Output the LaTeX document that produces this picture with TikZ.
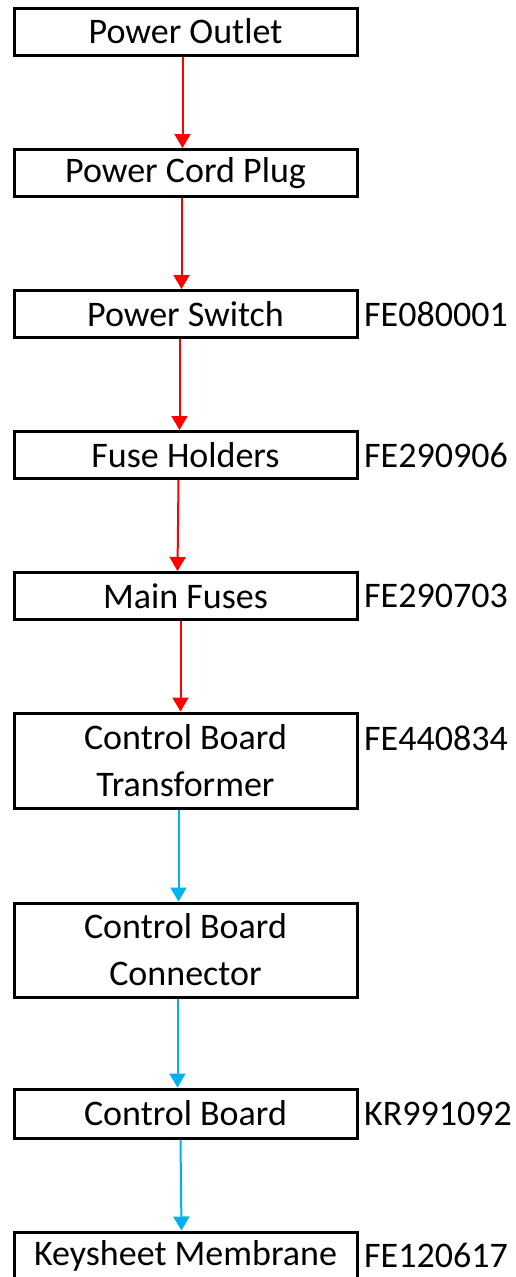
\documentclass[tikz,border=0pt]{standalone}
\usepackage{fontspec}
\setmainfont{Carlito}
\usepackage{tikz}
\usetikzlibrary{arrows.meta}
\definecolor{feed}{RGB}{255,0,0}
\definecolor{ctrl}{RGB}{0,176,240}
\tikzset{
  part/.style={draw, line width=3pt, minimum width=343pt, align=center, inner sep=0pt, font=\fontsize{36}{47}\selectfont},
  partno/.style={anchor=west, inner sep=0pt, font=\fontsize{36}{47}\selectfont},
  wire/.style={line width=2pt, -{Triangle[width=16pt,length=14pt]}}
}
\begin{document}
\begin{tikzpicture}[x=1pt,y=1pt]
\useasboundingbox (0,0) rectangle (515,-1277);
\node[part, minimum height=47pt] (Outlet) at (185.5,-31.5) {Power Outlet};
\node[part, minimum height=47pt] (Plug) at (185.5,-173) {Power Cord Plug};
\node[part, minimum height=47pt] (Switch) at (185.5,-314) {Power Switch};
\node[part, minimum height=47pt] (Holders) at (185.5,-455) {Fuse Holders};
\node[part, minimum height=47pt] (Fuses) at (185.5,-596) {Main Fuses};
\node[part, minimum height=95pt] (Transformer) at (185.5,-760.5) {Control Board\\Transformer};
\node[part, minimum height=94pt] (Connector) at (185.5,-950) {Control Board\\Connector};
\node[part, minimum height=49pt] (Board) at (185.5,-1113.5) {Control Board};
\node[part, minimum height=47pt] (Keysheet) at (185.5,-1255.5) {Keysheet Membrane};
\node[partno] (SwitchNo) at (364,-314) {FE080001};
\node[partno] (HoldersNo) at (364,-455) {FE290906};
\node[partno] (FusesNo) at (364,-596) {FE290703};
\node[partno] (TransformerNo) at (364,-738) {FE440834};
\node[partno] (BoardNo) at (364,-1113.5) {KR991092};
\node[partno] (KeysheetNo) at (364,-1255.5) {FE120617};
\draw[wire, feed] ([xshift=-3pt]Outlet.south) -- ([xshift=-3pt]Plug.north);
\draw[wire, feed] ([xshift=-4pt]Plug.south) -- ([xshift=-4pt]Switch.north);
\draw[wire, feed] ([xshift=-6pt]Switch.south) -- ([xshift=-6pt]Holders.north);
\draw[wire, feed] ([xshift=-7pt]Holders.south) -- ([xshift=-8pt]Fuses.north);
\draw[wire, feed] ([xshift=-5pt]Fuses.south) -- ([xshift=-5pt]Transformer.north);
\draw[wire, ctrl] ([xshift=-7pt]Transformer.south) -- ([xshift=-7pt]Connector.north);
\draw[wire, ctrl] ([xshift=-8pt]Connector.south) -- ([xshift=-8pt]Board.north);
\draw[wire, ctrl] ([xshift=-5pt]Board.south) -- ([xshift=-4pt]Keysheet.north);
\end{tikzpicture}
\end{document}
